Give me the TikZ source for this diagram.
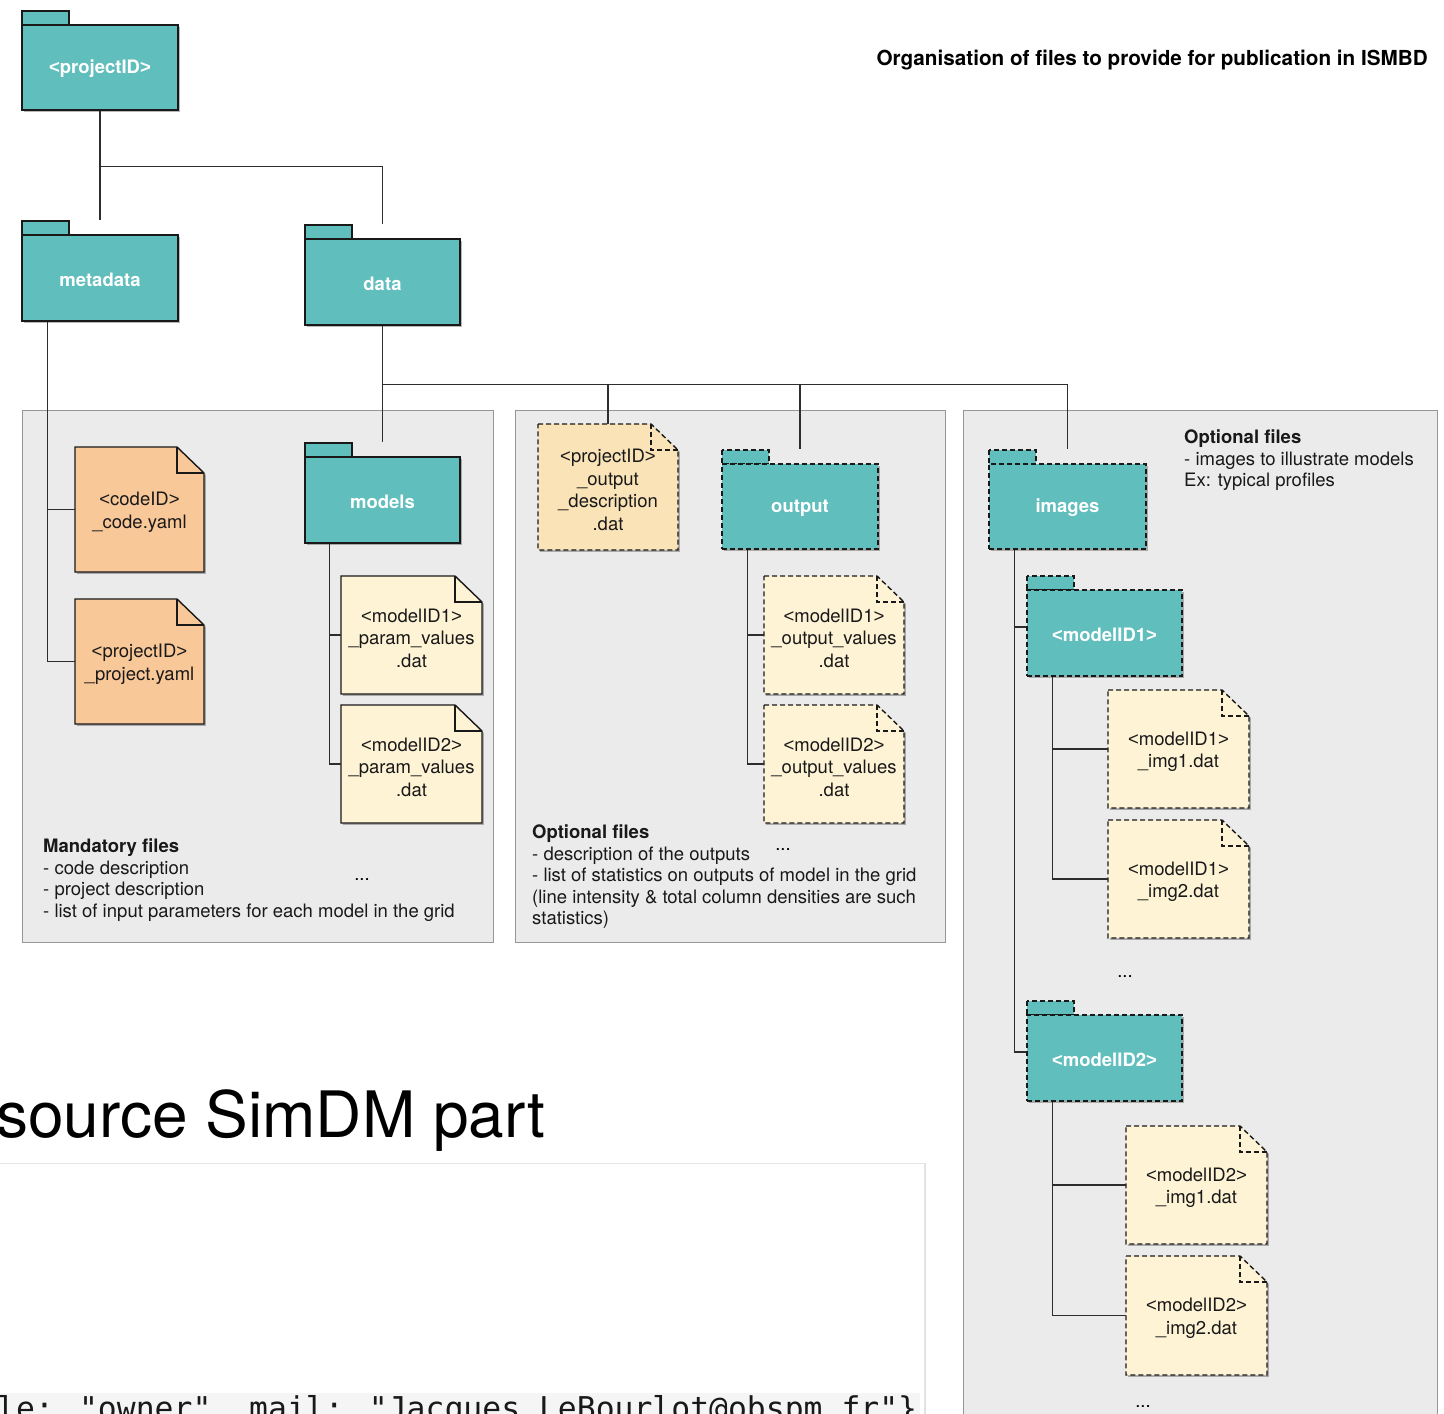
\documentclass[tikz,border=0pt]{standalone}
\usepackage{fontspec}
\setmainfont{TeX Gyre Heros}
\newfontfamily\codefont{DejaVu Sans Mono}
\newfontfamily\libf{Liberation Sans}
\newcommand\lab[1]{{\libf<}#1{\libf>}}
\usetikzlibrary{shadows}
\definecolor{tealf}{RGB}{96,190,189}
\definecolor{orangef}{RGB}{249,200,152}
\definecolor{peachf}{RGB}{251,227,184}
\definecolor{creamf}{RGB}{255,243,214}
\definecolor{panelf}{RGB}{235,235,235}
\definecolor{paneld}{RGB}{150,150,150}
\definecolor{linec}{RGB}{45,45,45}
\tikzset{
  shd/.style={drop shadow={shadow xshift=1.8pt,shadow yshift=-1.8pt,opacity=0.28,fill=black}},
  shapeline/.style={draw=black!90,line width=1.4pt},
  dsh/.style={dash pattern=on 5pt off 3pt},
  conn/.style={draw=linec,line width=1.3pt},
  folderbody/.style={shapeline,fill=tealf,text=white,font=\bfseries\fontsize{18.5}{22}\selectfont,inner sep=0pt,shd},
  foldertext/.style={inner sep=0pt,text=white,font=\bfseries\fontsize{18.5}{22}\selectfont},
  filetext/.style={inner sep=0pt,align=center,font=\fontsize{18.5}{22.5}\selectfont,text=black!90},
  panel/.style={draw=paneld,fill=panelf,line width=1pt,inner sep=0pt},
  note/.style={inner sep=0pt,align=left,anchor=north west,font=\fontsize{18.5}{21.5}\selectfont,text=black!90},
  dotsn/.style={inner sep=0pt,anchor=base,font=\fontsize{18.5}{22}\selectfont},
}
% name, x1, body top, x2, bottom, line style, text
\newcommand\mkfolder[7]{%
  \filldraw[shapeline,fill=tealf,#6] (#2,#3-14) rectangle (#2+47,#3);
  \node[folderbody,#6,minimum width={#4pt-#2pt},minimum height={#5pt-#3pt}] (#1) at ({(#2+#4)/2},{(#3+#5)/2}) {};
  \node[foldertext] (#1-t) at ({(#2+#4)/2},{(#3+#5)/2+1.5}) {#7};
}
% name, x1, y1, x2, y2, fill, line style, text
\newcommand\mkfile[8]{%
  \filldraw[shapeline,#7,fill=#6,shd] (#2,#3) -- (#4-27,#3) -- (#4,#3+26) -- (#4,#5) -- (#2,#5) -- cycle;
  \draw[shapeline,#7] (#4-27,#3) -- (#4-27,#3+26) -- (#4,#3+26);
  \node[inner sep=0pt,minimum width={#4pt-#2pt},minimum height={#5pt-#3pt}] (#1) at ({(#2+#4)/2},{(#3+#5)/2}) {};
  \node[filetext] (#1-t) at ({(#2+#4)/2},{(#3+#5)/2+3}) {#8};
}
\begin{document}
\begin{tikzpicture}[x=1pt,y=-1pt]
\useasboundingbox (0,0) rectangle (1444,1414);
% panels
\node[panel,minimum width=471pt,minimum height=532pt] (pan1) at (257.5,676) {};
\node[panel,minimum width=430pt,minimum height=532pt] (pan2) at (730,676) {};
\node[panel,minimum width=474pt,minimum height=1030pt] (pan3) at (1200,925) {};
% code box (lower left)
\node[draw=black!10,fill=white,inner sep=0pt,minimum width=934pt,minimum height=280pt,
  drop shadow={shadow xshift=1.5pt,shadow yshift=0pt,opacity=0.12,fill=black}] (cbox) at (457,1303) {};
\node[fill=black!4,inner sep=0pt,minimum width=925pt,minimum height=40pt] (cband) at (457.5,1413) {};
\node[inner sep=0pt,anchor=base west,font=\codefont\fontsize{31.4}{36}\selectfont,text=black!90] (cline) at (-3,1419)
  {le: "owner", mail: "Jacques.LeBourlot@obspm.fr"\}};
\node[inner sep=0pt,anchor=base west,font=\fontsize{64}{70}\selectfont] (bigt) at (-4,1137) {source SimDM part};
% title
\node[inner sep=0pt,anchor=north east,font=\bfseries\fontsize{20.7}{24}\selectfont] (title) at (1428,49.5)
  {Organisation of files to provide for publication in ISMBD};
% folders
\mkfolder{pid}{22}{25}{178}{110}{}{\lab{projectID}}
\mkfolder{meta}{22}{235}{178}{321}{}{metadata}
\mkfolder{data}{305}{239}{460}{325}{}{data}
\mkfolder{models}{305}{457}{460}{543}{}{models}
\mkfolder{output}{722}{464}{878}{549}{dsh}{output}
\mkfolder{images}{989}{464}{1146}{549}{dsh}{images}
\mkfolder{mid1}{1027}{590}{1182}{676}{dsh}{\lab{modelID1}}
\mkfolder{mid2}{1027}{1015}{1182}{1101}{dsh}{\lab{modelID2}}
% files
\mkfile{code}{75}{447}{204}{572}{orangef}{}{\lab{codeID}\\\_code.yaml}
\mkfile{proj}{75}{599}{204}{724}{orangef}{}{\lab{projectID}\\\_project.yaml}
\mkfile{pv1}{341}{576}{482}{694}{creamf}{}{\lab{modelID1}\\\_param\_values\\.dat}
\mkfile{pv2}{341}{705}{482}{823}{creamf}{}{\lab{modelID2}\\\_param\_values\\.dat}
\mkfile{outdesc}{538}{424}{678}{550}{peachf}{dsh}{\lab{projectID}\\\_output\\\_description\\.dat}
\mkfile{ov1}{764}{576}{904}{694}{creamf}{dsh}{\lab{modelID1}\\\_output\_values\\.dat}
\mkfile{ov2}{764}{705}{904}{823}{creamf}{dsh}{\lab{modelID2}\\\_output\_values\\.dat}
\mkfile{m1a}{1108}{690}{1249}{808}{creamf}{dsh}{\lab{modelID1}\\\_img1.dat}
\mkfile{m1b}{1108}{820}{1249}{938}{creamf}{dsh}{\lab{modelID1}\\\_img2.dat}
\mkfile{m2a}{1126}{1126}{1267}{1244}{creamf}{dsh}{\lab{modelID2}\\\_img1.dat}
\mkfile{m2b}{1126}{1256}{1267}{1375}{creamf}{dsh}{\lab{modelID2}\\\_img2.dat}
% connectors
\draw[conn] (pid.south) -- ([yshift=14pt]meta.north);
\draw[conn] (pid.south) ++(0,56) -| ([yshift=14pt]data.north);
\draw[conn] (data.south) -- ([yshift=14pt]models.north);
\draw[conn] (data.south) ++(0,59) -| (outdesc.north);
\draw[conn] (data.south) ++(0,59) -| ([yshift=14pt]output.north);
\draw[conn] (data.south) ++(0,59) -| ([yshift=14pt]images.north);
\draw[conn] ([xshift=26pt]meta.south west) |- (code.west);
\draw[conn] ([xshift=26pt]meta.south west) |- (proj.west);
\draw[conn] ([xshift=25pt]models.south west) |- (pv1.west);
\draw[conn] ([xshift=25pt]models.south west) |- (pv2.west);
\draw[conn] ([xshift=26pt]output.south west) |- (ov1.west);
\draw[conn] ([xshift=26pt]output.south west) |- (ov2.west);
\draw[conn] ([xshift=26pt]images.south west) |- ([yshift=6pt]mid1.west);
\draw[conn] ([xshift=26pt]images.south west) |- ([yshift=6pt]mid2.west);
\draw[conn] ([xshift=26pt]mid1.south west) |- (m1a.west);
\draw[conn] ([xshift=26pt]mid1.south west) |- (m1b.west);
\draw[conn] ([xshift=26pt]mid2.south west) |- (m2a.west);
\draw[conn] ([xshift=26pt]mid2.south west) |- (m2b.west);
% notes
\node[note] (note1) at (43,839) {\textbf{Mandatory files}\\- code description\\- project description\\- list of input parameters for each model in the grid};
\node[note] (note2) at (532,825) {\textbf{Optional files}\\- description of the outputs\\- list of statistics on outputs of model in the grid\\(line intensity \& total column densities are such\\statistics)};
\node[note] (note3) at (1184,430) {\textbf{Optional files}\\- images to illustrate models\\Ex: typical profiles};
\node[dotsn] (d1) at (362,880) {...};
\node[dotsn] (d2) at (783,850) {...};
\node[dotsn] (d3) at (1125,977) {...};
\node[dotsn] (d4) at (1143,1407) {...};
\end{tikzpicture}
\end{document}
